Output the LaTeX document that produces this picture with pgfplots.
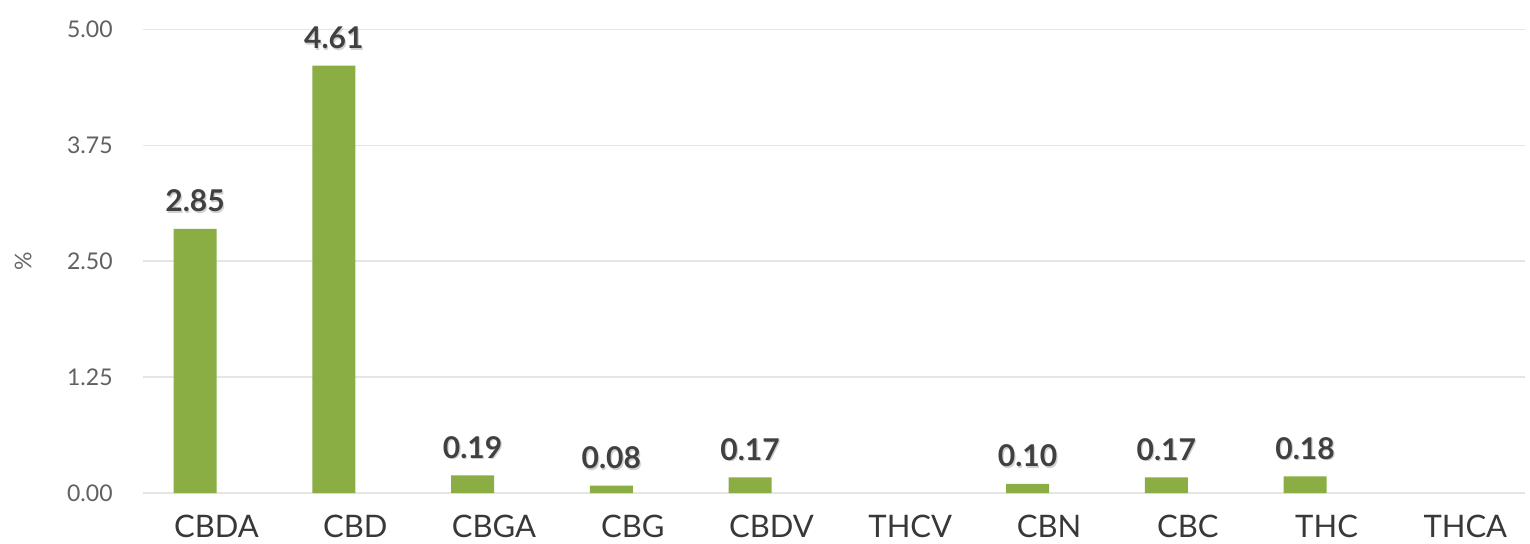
\documentclass[border=0pt]{standalone}
\usepackage{fontspec}
\setmainfont{Lato}
\usepackage{pgfplots}
\usepackage{pgfplotstable}
\pgfplotsset{compat=1.18}
\pgfkeys{/pgf/number format/assume math mode=true}
\definecolor{barg}{RGB}{138,173,68}
\pgfplotstableread{
x y
0 2.85
1 4.61
2 0.19
3 0.08
4 0.17
6 0.10
7 0.17
8 0.18
}\cannabinoids
\begin{document}
\begin{tikzpicture}
\useasboundingbox (-71.5pt,-25pt) rectangle (693.5pt,246.55pt);
\begin{axis}[
  at={(0,0)}, anchor=south west,
  scale only axis, width=691pt, height=231.8pt,
  xmin=-0.53, xmax=9.43, ymin=0, ymax=5,
  axis line style={draw=none},
  major tick length=0pt,
  xtick={0,...,9},
  xticklabels={CBDA,CBD,CBGA,CBG,CBDV,THCV,CBN,CBC,THC,THCA},
  xticklabel style={font=\fontsize{15.5}{15.5}\selectfont, text=black!78, anchor=north, inner sep=0pt, yshift=-11pt},
  ytick={0,1.25,2.5,3.75,5},
  yticklabel style={font=\fontsize{11.5}{12}\selectfont, text=black!62, anchor=east, inner sep=0pt, xshift=-15pt,
    /pgf/number format/.cd, fixed, fixed zerofill, precision=2, assume math mode=true},
  ymajorgrids,
  major grid style={color=black!10, line width=0.9pt},
  extra y ticks={0},
  extra y tick labels={},
  extra y tick style={grid style={color=black!22, line width=1.1pt}},
  ylabel={\%},
  ylabel style={at={(axis description cs:-0.0868,0.5)}, anchor=center, font=\fontsize{11.5}{12}\selectfont, text=black!60},
  ybar, bar width=21.5pt,
  point meta=y,
  nodes near coords={\pgfmathprintnumber[fixed,fixed zerofill,precision=2,assume math mode=true]{\pgfplotspointmeta}},
  every node near coord/.append style={anchor=base, inner sep=0pt, yshift=8.5pt, font=\fontsize{15}{15}\selectfont\bfseries},
  clip=false,
]
\addplot[bar shift=-10.75pt, draw=none, fill=none,
  every node near coord/.append style={text=black!18, xshift=0.6pt, yshift=-0.7pt}] table[x=x,y=y] {\cannabinoids};
\addplot[bar shift=-10.75pt, draw=none, fill=barg,
  every node near coord/.append style={text=black!75}] table[x=x,y=y] {\cannabinoids};
\end{axis}
\end{tikzpicture}
\end{document}
